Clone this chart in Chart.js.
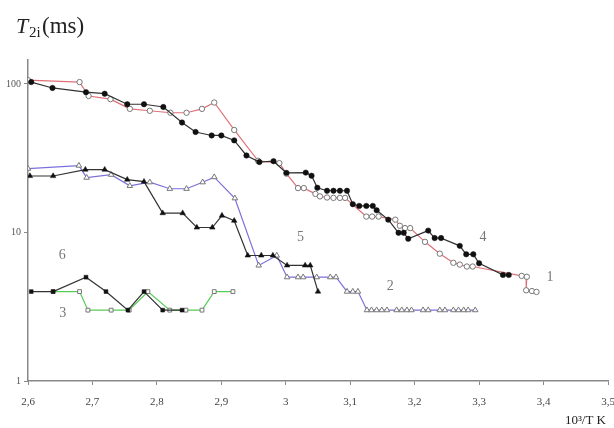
<!DOCTYPE html>
<html>
<head>
<meta charset="utf-8">
<script src="https://cdn.jsdelivr.net/npm/chart.js@4/dist/chart.umd.min.js"></script>
<style>
  html, body { margin: 0; padding: 0; background: #fff; }
  #wrap { width: 614px; height: 428px; }
</style>
</head>
<body>
<div id="wrap"><canvas id="t2Chart" width="614" height="428"></canvas></div>
<script>
// axis range
const xMin = 2.6, xMax = 3.5;
const yMin = 1, yMax = 145;
const yTicks = [1, 10, 100];

// curve 1 (open circles, red line)
const s1X = [2.600, 2.680, 2.694, 2.728, 2.758, 2.789, 2.821, 2.846, 2.870, 2.889, 2.920, 2.957, 2.990, 3.001,
             3.019, 3.028, 3.046, 3.053, 3.064, 3.074, 3.084, 3.092, 3.125, 3.134, 3.144, 3.170, 3.177, 3.185,
             3.193, 3.216, 3.239, 3.260, 3.270, 3.281, 3.290, 3.366, 3.374, 3.373, 3.382, 3.389];
const s1Y = [106, 103, 83, 79, 68, 66, 64, 64, 68, 75, 49, 30.4, 29.3, 24.9,
             19.9, 19.9, 18.2, 17.5, 17.2, 17.1, 17.1, 17.1, 12.8, 12.8, 12.8, 12.2, 11.1, 10.7,
             10.7, 8.65, 7.2, 6.25, 6.08, 5.9, 5.9, 5.1, 5.03, 4.08, 4.03, 3.98];

// curve 4 (filled circles, black line)
const s4X = [2.605, 2.638, 2.690, 2.719, 2.754, 2.780, 2.810, 2.839, 2.860, 2.885, 2.900, 2.920, 2.939, 2.959,
             2.981, 3.001, 3.031, 3.040, 3.049, 3.064, 3.074, 3.084, 3.095, 3.104, 3.114, 3.125, 3.135, 3.141,
             3.159, 3.175, 3.183, 3.190, 3.221, 3.231, 3.241, 3.270, 3.280, 3.291, 3.300, 3.337, 3.346];
const s4Y = [103, 94, 88, 86, 73, 73, 70, 55, 47.5, 45, 45, 41.7, 33, 29.8,
             30.2, 25.2, 25.3, 24.1, 20, 19.1, 19.1, 19.1, 19.1, 15.5, 15.1, 15.1, 15.1, 14.1,
             12.2, 9.95, 9.95, 9.07, 10.3, 9.17, 9.17, 8.13, 7.13, 7.13, 6.2, 5.18, 5.18];

// curve 2 (open triangles, blue line)
const s2X = [2.600, 2.679, 2.691, 2.729, 2.758, 2.789, 2.820, 2.846, 2.871, 2.889, 2.921, 2.958, 2.986, 3.002,
             3.019, 3.027, 3.048, 3.069, 3.078, 3.095, 3.104, 3.112, 3.126, 3.133, 3.141, 3.149, 3.157, 3.172,
             3.180, 3.188, 3.195, 3.213, 3.221, 3.239, 3.247, 3.260, 3.268, 3.276, 3.283, 3.294];
const s2Y = [26.9, 28.2, 23.4, 24.5, 20.6, 21.8, 19.7, 19.7, 21.8, 23.6, 17.0, 6, 7, 5,
             5, 5, 5, 5, 5, 4, 4, 4, 3, 3, 3, 3, 3, 3,
             3, 3, 3, 3, 3, 3, 3, 3, 3, 3, 3, 3];

// curve 5 (filled triangles, black line)
const s5X = [2.603, 2.639, 2.689, 2.719, 2.754, 2.780, 2.809, 2.840, 2.862, 2.886, 2.901, 2.920, 2.941, 2.962,
             2.980, 3.002, 3.030, 3.038, 3.050];
const s5Y = [24, 24, 26.5, 26.5, 22.7, 22, 13.5, 13.5, 10.8, 10.8, 13, 12, 7, 7,
             7, 6, 6, 6, 4];

// curve 6 (filled squares, black line)
const s6X = [2.605, 2.639, 2.690, 2.721, 2.755, 2.780, 2.809, 2.839];
const s6Y = [4, 4, 5, 4, 3, 4, 3, 3];

// curve 3 (open squares, green line)
const s3X = [2.639, 2.680, 2.693, 2.729, 2.757, 2.786, 2.820, 2.845, 2.870, 2.889, 2.918];
const s3Y = [4, 4, 3, 3, 3, 4, 3, 3, 3, 4, 4];

// curve numbers, placed in data units
const curveNames = ['1', '2', '3', '4', '5', '6'];
const curveNameX = [3.410, 3.162, 2.654, 3.306, 3.023, 2.653];
const curveNameY = [4.97, 4.32, 2.87, 9.31, 9.31, 6.97];

const pts = (xs, ys) => xs.map((x, i) => ({ x: x, y: ys[i] }));

function series(xs, ys, lineColor, style, filled) {
    return {
        data: pts(xs, ys),
        borderColor: lineColor,
        borderWidth: 1.2,
        pointStyle: style,
        pointRadius: style === 'triangle' ? 3.2 : 2.7,
        pointBorderWidth: filled ? 0.5 : 1,
        pointBorderColor: filled ? '#111' : '#777',
        pointBackgroundColor: filled ? '#111' : '#fff',
        tension: 0
    };
}

const labelsPlugin = {
    id: 'labels',
    afterDraw(chart) {
        const ctx = chart.ctx;
        const xs = chart.scales.x, ys = chart.scales.y;
        ctx.save();
        ctx.fillStyle = '#777';
        ctx.font = '14px "Liberation Serif"';
        ctx.textAlign = 'center';
        ctx.textBaseline = 'middle';
        curveNames.forEach((t, i) => {
            ctx.fillText(t, xs.getPixelForValue(curveNameX[i]), ys.getPixelForValue(curveNameY[i]));
        });

        // y title T2i(ms)
        ctx.fillStyle = '#222';
        ctx.textAlign = 'left';
        ctx.textBaseline = 'alphabetic';
        ctx.font = 'italic 22px "Liberation Serif"';
        ctx.fillText('T', 16, 33);
        ctx.font = '15px "Liberation Serif"';
        ctx.fillText('2i', 29, 37);
        ctx.font = '23px "Liberation Serif"';
        ctx.fillText('(ms)', 42, 33);

        // x title
        ctx.font = '13px "Liberation Serif"';
        ctx.textAlign = 'right';
        ctx.fillText('10\u00B3/T K', 606, 424);
        ctx.restore();
    }
};

const ctx = document.getElementById('t2Chart').getContext('2d');
new Chart(ctx, {
    type: 'line',
    data: {
        datasets: [
            series(s4X, s4Y, '#333', 'circle', true),
            series(s5X, s5Y, '#333', 'triangle', true),
            series(s6X, s6Y, '#333', 'rect', true),
            series(s1X, s1Y, '#e07078', 'circle', false),
            series(s2X, s2Y, '#7a70dc', 'triangle', false),
            series(s3X, s3Y, '#55cc55', 'rect', false)
        ]
    },
    options: {
        responsive: false,
        animation: false,
        layout: { padding: { top: 60, right: 6, left: 0, bottom: 0 } },
        plugins: { legend: { display: false }, tooltip: { enabled: false } },
        scales: {
            x: {
                type: 'linear',
                min: xMin,
                max: xMax,
                afterFit: s => { s.height = 47; s.paddingRight = 0; s.paddingLeft = 0; },
                border: { color: '#888', width: 1.5 },
                grid: { drawOnChartArea: false, tickLength: 4, color: '#888' },
                ticks: {
                    stepSize: 0.1,
                    padding: 11,
                    color: '#444',
                    font: { family: 'Liberation Serif', size: 11 },
                    maxRotation: 0,
                    callback: v => String(Number(v.toFixed(1))).replace('.', ',')
                }
            },
            y: {
                type: 'logarithmic',
                min: yMin,
                max: yMax,
                afterFit: s => { s.width = 28; s.paddingTop = 0; s.paddingBottom = 0; },
                afterBuildTicks: s => { s.ticks = yTicks.map(v => ({ value: v })); },
                border: { color: '#888', width: 1.5 },
                grid: { drawOnChartArea: false, tickLength: 4, color: '#888' },
                ticks: {
                    padding: 3,
                    color: '#555',
                    font: { family: 'Liberation Serif', size: 10 },
                    callback: v => String(v)
                }
            }
        }
    },
    plugins: [labelsPlugin]
});
</script>
</body>
</html>
